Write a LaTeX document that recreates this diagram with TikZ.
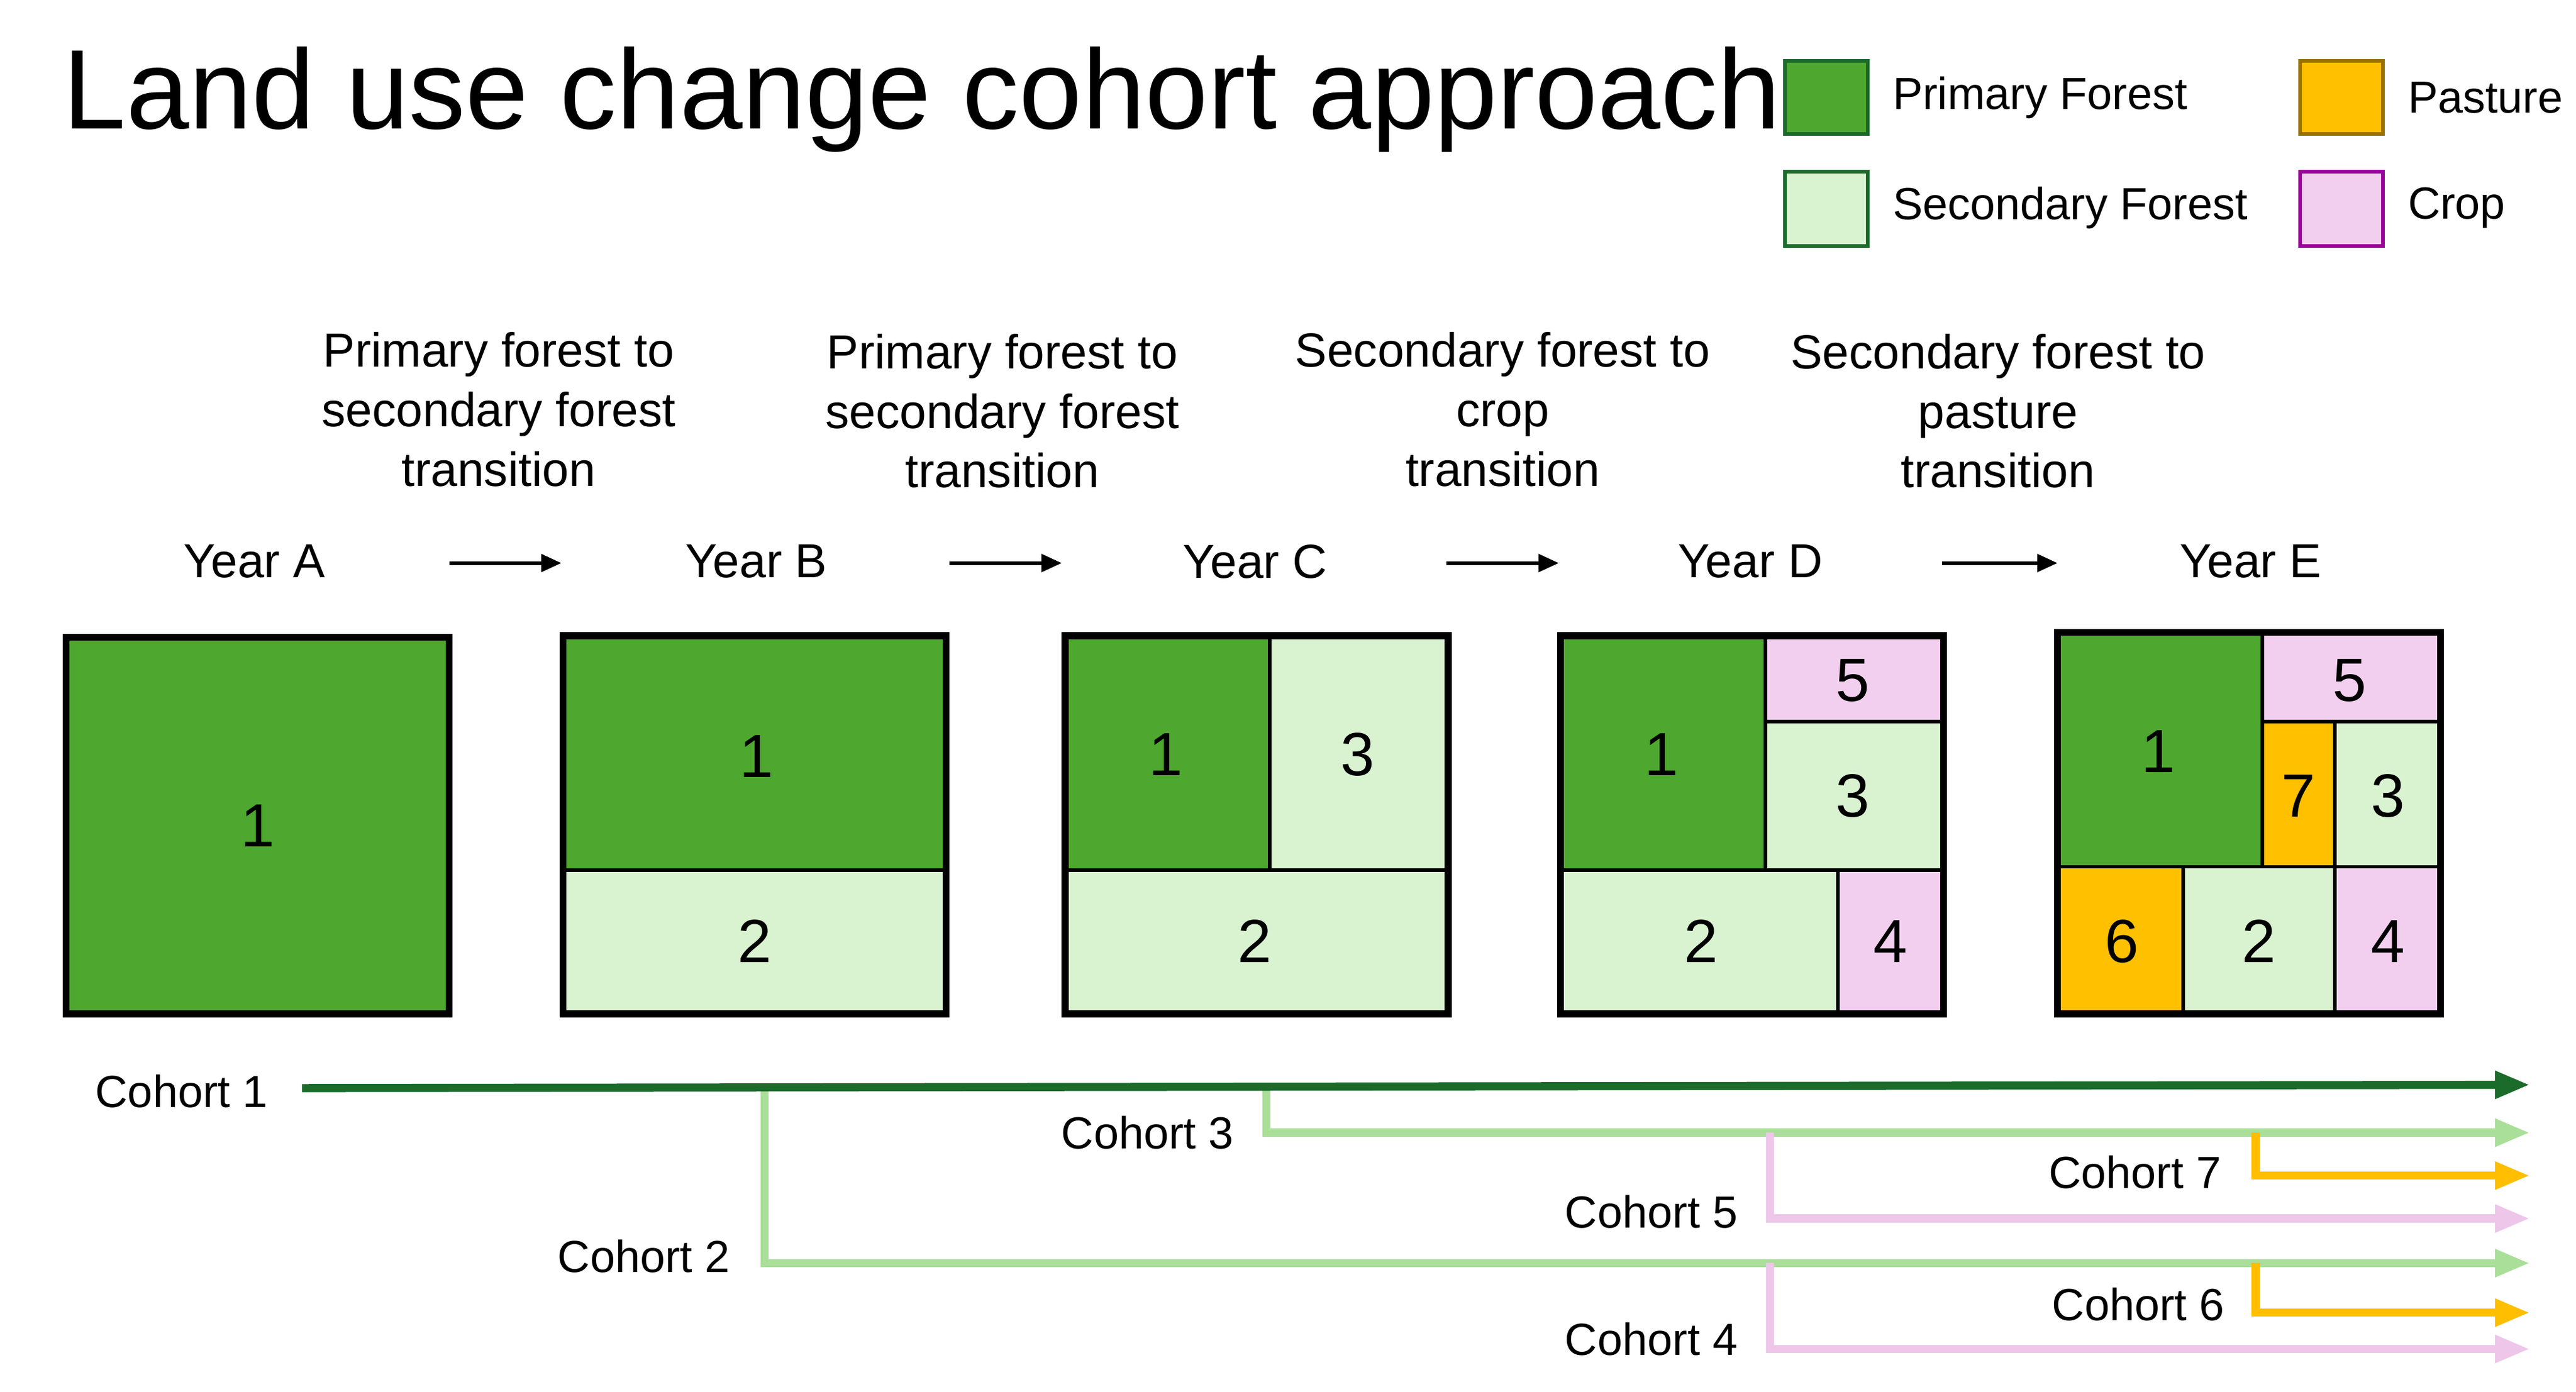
\documentclass[tikz,border=0pt]{standalone}
\usepackage{fontspec}
\setmainfont{Liberation Sans}
\usetikzlibrary{arrows.meta}
\definecolor{pf}{HTML}{4EA72E}
\definecolor{sf}{HTML}{D9F2D0}
\definecolor{cr}{HTML}{F2CFEE}
\definecolor{pa}{HTML}{FFC000}
\definecolor{cdk}{HTML}{1B6B2B}
\definecolor{clg}{HTML}{A9DF98}
\definecolor{cpk}{HTML}{EDC6EA}
\definecolor{cor}{HTML}{FFBE00}
\begin{document}
\begin{tikzpicture}[x=0.02cm,y=-0.02cm,
 cell/.style={draw=black,line width=1.2pt},
 frame/.style={draw=black,line width=2.4pt},
 num/.style={font=\fontsize{21}{24}\selectfont},
 lab/.style={font=\fontsize{15.5}{18}\selectfont},
 trans/.style={font=\fontsize{16.5}{20.5}\selectfont,align=center},
 yr/.style={font=\fontsize{16.5}{20}\selectfont},
 yrarrow/.style={-{Triangle[length=7pt,width=6pt]},line width=1.3pt},
 coh/.style={line width=2.8pt,-{Triangle[length=12pt,width=9pt]}},
 leg/.style={line width=1.2pt}]
\useasboundingbox (0,0) rectangle (1560,843);
\node[anchor=base west,font=\fontsize{39}{44}\selectfont,inner sep=0] (title) at (38,78) {Land use change cohort approach};
% legend
\filldraw[leg,fill=pf,draw=cdk] (1081,37) rectangle (1131,81);
\filldraw[leg,fill=sf,draw=cdk] (1081,104) rectangle (1131,149);
\filldraw[leg,fill=pa,draw=black!40!pa] (1393,37) rectangle (1443,81);
\filldraw[leg,fill=cr,draw=violet!80!magenta] (1393,104) rectangle (1443,149);
\node[lab,anchor=west] (lpf) at (1140,59) {Primary Forest};
\node[lab,anchor=west] (lsf) at (1140,126) {Secondary Forest};
\node[lab,anchor=west] (lpa) at (1452,59) {Pasture};
\node[lab,anchor=west] (lcr) at (1452,126) {Crop};
% transitions
\node[trans] (t1) at (302,248) {Primary forest to\\secondary forest\\transition};
\node[trans] (t2) at (607,249) {Primary forest to\\secondary forest\\transition};
\node[trans] (t3) at (910,248) {Secondary forest to\\crop\\transition};
\node[trans] (t4) at (1210,249) {Secondary forest to\\pasture\\transition};
\node[yr] (ya) at (154,340) {Year A};
\node[yr] (yb) at (458,340) {Year B};
\node[yr] (yc) at (760,340) {Year C};
\node[yr] (yd) at (1060,340) {Year D};
\node[yr] (ye) at (1363,340) {Year E};
\coordinate (a1) at (272,341); \coordinate (a2) at (340,341);
\coordinate (b1) at (575,341); \coordinate (b2) at (643,341);
\coordinate (c1) at (876,341); \coordinate (c2) at (944,341);
\coordinate (d1) at (1176,341); \coordinate (d2) at (1246,341);
\draw[yrarrow] (a1)--(a2); \draw[yrarrow] (b1)--(b2); \draw[yrarrow] (c1)--(c2); \draw[yrarrow] (d1)--(d2);
% Year A
\filldraw[cell,fill=pf] (40,386) rectangle (272,614);
\node[num] at (156,500) {1};
\draw[frame] (40,386) rectangle (272,614);
% Year B
\filldraw[cell,fill=pf] (341,385) rectangle (573,527);
\filldraw[cell,fill=sf] (341,527) rectangle (573,614);
\node[num] at (458,458) {1}; \node[num] at (457,570) {2};
\draw[frame] (341,385) rectangle (573,614);
% Year C
\filldraw[cell,fill=pf] (645,385) rectangle (769,527);
\filldraw[cell,fill=sf] (769,385) rectangle (877,527);
\filldraw[cell,fill=sf] (645,527) rectangle (877,614);
\node[num] at (706,457) {1}; \node[num] at (822,457) {3}; \node[num] at (760,570) {2};
\draw[frame] (645,385) rectangle (877,614);
% Year D
\filldraw[cell,fill=pf] (945,385) rectangle (1069,527);
\filldraw[cell,fill=cr] (1069,385) rectangle (1177,437);
\filldraw[cell,fill=sf] (1069,437) rectangle (1177,527);
\filldraw[cell,fill=sf] (945,527) rectangle (1113,614);
\filldraw[cell,fill=cr] (1113,527) rectangle (1177,614);
\node[num] at (1006,457) {1}; \node[num] at (1122,412) {5}; \node[num] at (1122,482) {3};
\node[num] at (1030,570) {2}; \node[num] at (1145,570) {4};
\draw[frame] (945,385) rectangle (1177,614);
% Year E
\filldraw[cell,fill=pf] (1246,383) rectangle (1370,525);
\filldraw[cell,fill=cr] (1370,383) rectangle (1478,437);
\filldraw[cell,fill=pa] (1370,437) rectangle (1414,525);
\filldraw[cell,fill=sf] (1414,437) rectangle (1478,525);
\filldraw[cell,fill=pa] (1246,525) rectangle (1322,614);
\filldraw[cell,fill=sf] (1322,525) rectangle (1414,614);
\filldraw[cell,fill=cr] (1414,525) rectangle (1478,614);
\node[num] at (1307,455) {1}; \node[num] at (1423,412) {5}; \node[num] at (1392,482) {7};
\node[num] at (1446,482) {3}; \node[num] at (1285,570) {6}; \node[num] at (1368,570) {2};
\node[num] at (1446,570) {4};
\draw[frame] (1246,383) rectangle (1478,614);
% cohorts
\coordinate (k1s) at (183,659); \coordinate (k1e) at (1532,657);
\coordinate (k2s) at (463,659); \coordinate (k2e) at (1532,765);
\coordinate (k3s) at (767,659); \coordinate (k3e) at (1532,686);
\coordinate (k5s) at (1072,686); \coordinate (k5e) at (1532,738);
\coordinate (k4s) at (1072,765); \coordinate (k4e) at (1532,817);
\coordinate (k7s) at (1366,686); \coordinate (k7e) at (1532,712);
\coordinate (k6s) at (1366,765); \coordinate (k6e) at (1532,795);
\draw[coh,clg] (k2s) |- (k2e);
\draw[coh,clg] (k3s) |- (k3e);
\draw[coh,cpk] (k5s) |- (k5e);
\draw[coh,cpk] (k4s) |- (k4e);
\draw[coh,cor] (k7s) |- (k7e);
\draw[coh,cor] (k6s) |- (k6e);
\draw[coh,cdk] (k1s) -- (k1e);
\node[lab] (c1) at (110,661) {Cohort 1};
\node[lab] (c3) at (695,686) {Cohort 3};
\node[lab] (c7) at (1293,710) {Cohort 7};
\node[lab] (c5) at (1000,734) {Cohort 5};
\node[lab] (c2) at (390,761) {Cohort 2};
\node[lab] (c6) at (1295,790) {Cohort 6};
\node[lab] (c4) at (1000,811) {Cohort 4};
\end{tikzpicture}
\end{document}
